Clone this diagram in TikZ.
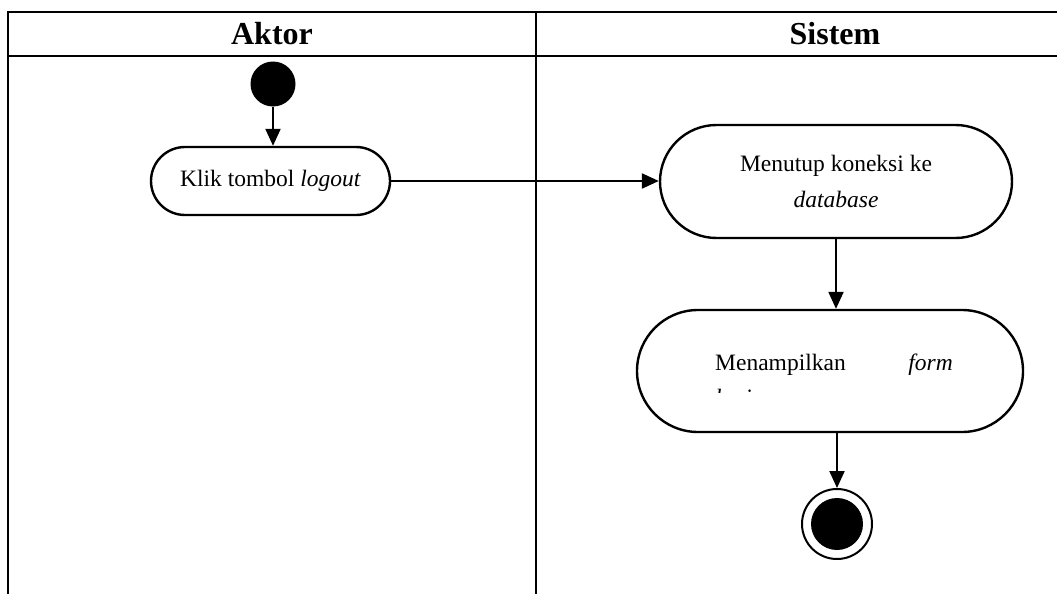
\documentclass[tikz,border=0pt]{standalone}
\usepackage{fontspec}
\setmainfont{Liberation Serif}
\usetikzlibrary{shapes.misc,arrows.meta}
\begin{document}
\begin{tikzpicture}[x=1pt,y=-1pt,
  lane/.style={line width=2pt},
  act/.style={draw,line width=2.4pt,rounded rectangle,rounded rectangle arc length=180,inner sep=0pt,align=center,font=\fontsize{23.5}{36}\selectfont},
  flow/.style={line width=2.2pt,-{Triangle[length=17pt,width=15pt]}},
  hdr/.style={font=\fontsize{32}{38}\selectfont\bfseries}
]
\useasboundingbox (0,0) rectangle (1057,594);
% swimlane frame
\draw[lane] (1057,12) -- (8,12) -- (8,594);
\draw[lane] (8,56) -- (1057,56);
\draw[lane] (536,12) -- (536,594);
\node[hdr] (hA) at (272,34) {Aktor};
\node[hdr] (hS) at (835,34) {Sistem};
% initial node
\node[circle,fill=black,minimum size=45pt,inner sep=0pt] (start) at (273,84) {};
% actions
\node[act,minimum width=239pt,minimum height=68pt] (a1) at (270.5,181) {Klik tombol \textit{logout}};
\node[act,minimum width=352pt,minimum height=113pt] (a2) at (836,181.5) {Menutup koneksi ke\\\textit{database}};
\node[act,minimum width=386pt,minimum height=122pt] (a3) at (830,371) {};
% justified text frame, cut off below the first line
\begin{scope}
  \clip (640,330) rectangle (1020,392.5);
  \node[anchor=base west,inner sep=0pt,font=\fontsize{23.5}{36}\selectfont] (t1) at (715,370) {Menampilkan};
  \node[anchor=base east,inner sep=0pt,font=\fontsize{23.5}{36}\selectfont] (t2) at (953,370) {\textit{form}};
  \node[anchor=base west,inner sep=0pt,font=\fontsize{23.5}{36}\selectfont] (t3) at (715,405) {\textit{login}};
\end{scope}
% final node
\node[circle,draw,line width=2pt,minimum size=70pt,inner sep=0pt] (stop) at (837,524) {};
\node[circle,fill=black,minimum size=52pt,inner sep=0pt] (stopin) at (stop.center) {};
% control flows
\draw[flow] (start.south) -- (start.south |- a1.north);
\draw[flow] (a1.east) -- (a2.west |- a1.east);
\draw[flow] (a2.south) -- (a2.south |- a3.north);
\draw[flow] (a3.south -| stop.north) -- (stop.north);
\end{tikzpicture}
\end{document}
